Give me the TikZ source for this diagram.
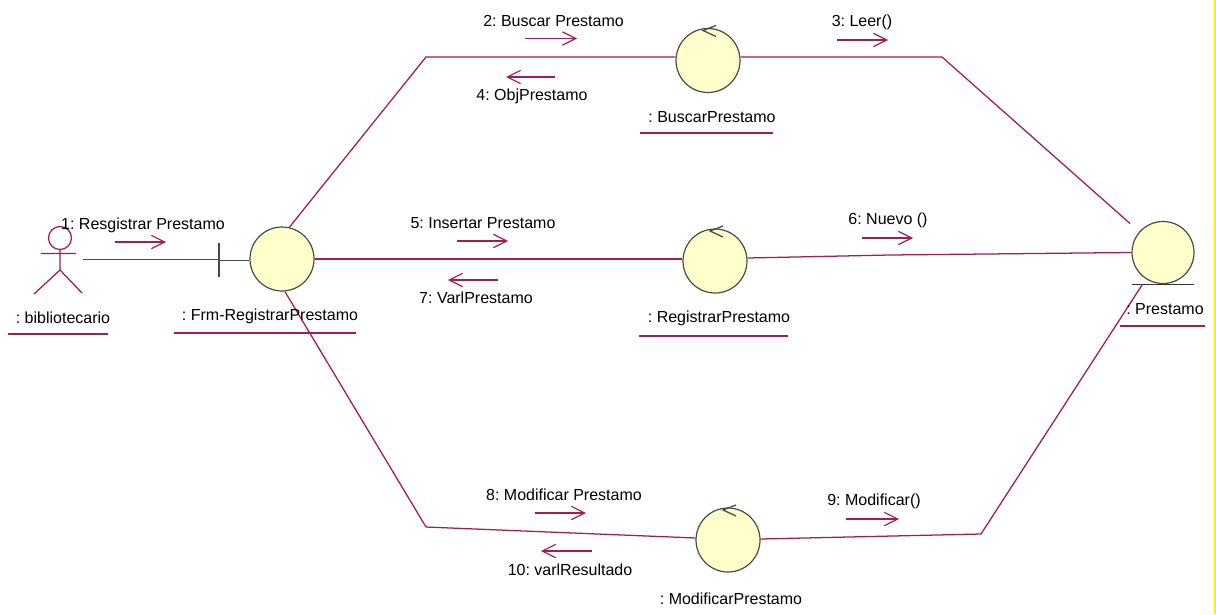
\documentclass[tikz,border=0pt]{standalone}
\usepackage{fontspec}
\setmainfont{Liberation Sans}
\usetikzlibrary{arrows.meta}
\definecolor{umlline}{HTML}{A61C4C}
\definecolor{umlfill}{HTML}{FFFFCC}
\definecolor{umlgrey}{HTML}{4A4A4A}
\tikzset{
  lnk/.style={draw=umlline,line width=0.95pt},
  msg/.style={draw=umlline,line width=0.85pt,-{Straight Barb[length=10pt,width=10pt,line width=0.85pt]}},
  obj/.style={circle,draw=umlgrey,fill=umlfill,line width=0.9pt,minimum size=48pt,inner sep=0pt},
  lab/.style={font=\frenchspacing\fontsize{12pt}{14pt}\selectfont,text=black,inner sep=0pt,anchor=center},
  ulin/.style={draw=umlline,line width=0.95pt},
  glyph/.style={draw=umlgrey,line width=0.95pt},
  ctrl/.pic={\draw[glyph] (8,-35) -- (-5,-30) -- (8,-24);}
}
\begin{document}
\begin{tikzpicture}[x=0.75pt,y=-0.75pt]
\useasboundingbox (0,0) rectangle (1216,614);
\fill[white] (0,0) rectangle (1216,614);
\fill[yellow] (1214,0) rectangle (1216,614);

% objects
\node[obj] (frm) at (282,259) {};
\node[obj] (buscar) at (708,60.5) {};
\node[obj] (registrar) at (715,261) {};
\node[obj] (modificar) at (728,540) {};
\node[obj,minimum size=46.5pt] (prestamo) at (1163,252.5) {};
\coordinate (actorhand) at (83,259.5);
\coordinate (bnd) at (219,259.5);
\coordinate (b1) at (426,57);
\coordinate (b2) at (942,57);
\coordinate (r1) at (890,255);
\coordinate (m1) at (426,527);
\coordinate (m2) at (981,534);
\coordinate (pa) at (1130,223.5);
\coordinate (pb) at (1131,252.5);
\coordinate (pc) at (1142,285);

% connectors
\draw[lnk] (actorhand) -- (bnd);
\draw[lnk] (frm.77) -- (b1) -- (buscar.west |- b1);
\draw[lnk] (buscar.east |- b2) -- (b2) -- (pa);
\draw[lnk] (frm.east) -- (registrar.west |- frm.east);
\draw[lnk] (registrar.east |- 0,258) -- (r1) -- (pb);
\draw[lnk] (frm.275) -- (m1) -- (modificar.west |- 0,538);
\draw[lnk] (modificar.east |- 0,539) -- (m2) -- (pc);

% actor
\draw[lnk] (60,238) circle[radius=11.5];
\draw[lnk] (60,249.5) -- (60,270) (41,253.5) -- (76,253.5) (34,294) -- (60,270) -- (82,293);

% boundary and entity marks
\draw[glyph] (219,243) -- (219,277) (219,260.5) -- (frm.west |- 0,260.5);
\draw[draw=black!80,line width=1pt] (1132,284.5) -- (1194,284.5);
\pic at (buscar) {ctrl};
\pic at (registrar) {ctrl};
\pic at (modificar) {ctrl};

% message arrows
\coordinate (a1s) at (115,242); \coordinate (a1e) at (166,242);
\coordinate (a2s) at (525,38.5);  \coordinate (a2e) at (577,38.5);
\coordinate (a3s) at (837,40);  \coordinate (a3e) at (888,40);
\coordinate (a4s) at (555,77);  \coordinate (a4e) at (506,77);
\coordinate (a5s) at (457,241); \coordinate (a5e) at (508,241);
\coordinate (a6s) at (862,238); \coordinate (a6e) at (913,238);
\coordinate (a7s) at (498,280); \coordinate (a7e) at (448,280);
\coordinate (a8s) at (535,513); \coordinate (a8e) at (586,513);
\coordinate (a9s) at (846,519); \coordinate (a9e) at (899,519);
\coordinate (a10s) at (592,551); \coordinate (a10e) at (541,551);
\foreach \k in {1,...,10} {\draw[msg] (a\k s) -- (a\k e);}

% message labels
\node[lab] (l1) at (143,225) {1: Resgistrar Prestamo};
\node[lab] (l2) at (553.5,21) {2: Buscar Prestamo};
\node[lab] (l3) at (862,22) {3: Leer()};
\node[lab] (l4) at (532,96) {4: ObjPrestamo};
\node[lab] (l5) at (483,223) {5: Insertar Prestamo};
\node[lab] (l6) at (888,220) {6: Nuevo ()};
\node[lab] (l7) at (476,298) {7: VarlPrestamo};
\node[lab] (l8) at (564,495) {8: Modificar Prestamo};
\node[lab] (l9) at (874,501) {9: Modificar()};
\node[lab] (l10) at (570,570) {10: varlResultado};

% object labels
\node[lab] (tb) at (63,318) {: bibliotecario};
\node[lab] (tf) at (270,316) {: Frm-RegistrarPrestamo};
\node[lab] (tu) at (712,117) {: BuscarPrestamo};
\node[lab] (tr) at (719,318.5) {: RegistrarPrestamo};
\node[lab] (tp) at (1165,309) {: Prestamo};
\node[lab] (tm) at (731,599) {: ModificarPrestamo};
\draw[ulin] (8,334) -- (108,334);
\draw[ulin] (174,333) -- (356,333);
\draw[ulin] (640,133) -- (773,133);
\draw[ulin] (639,336) -- (788,336);
\draw[ulin] (1120,326) -- (1205,326);
\end{tikzpicture}
\end{document}
